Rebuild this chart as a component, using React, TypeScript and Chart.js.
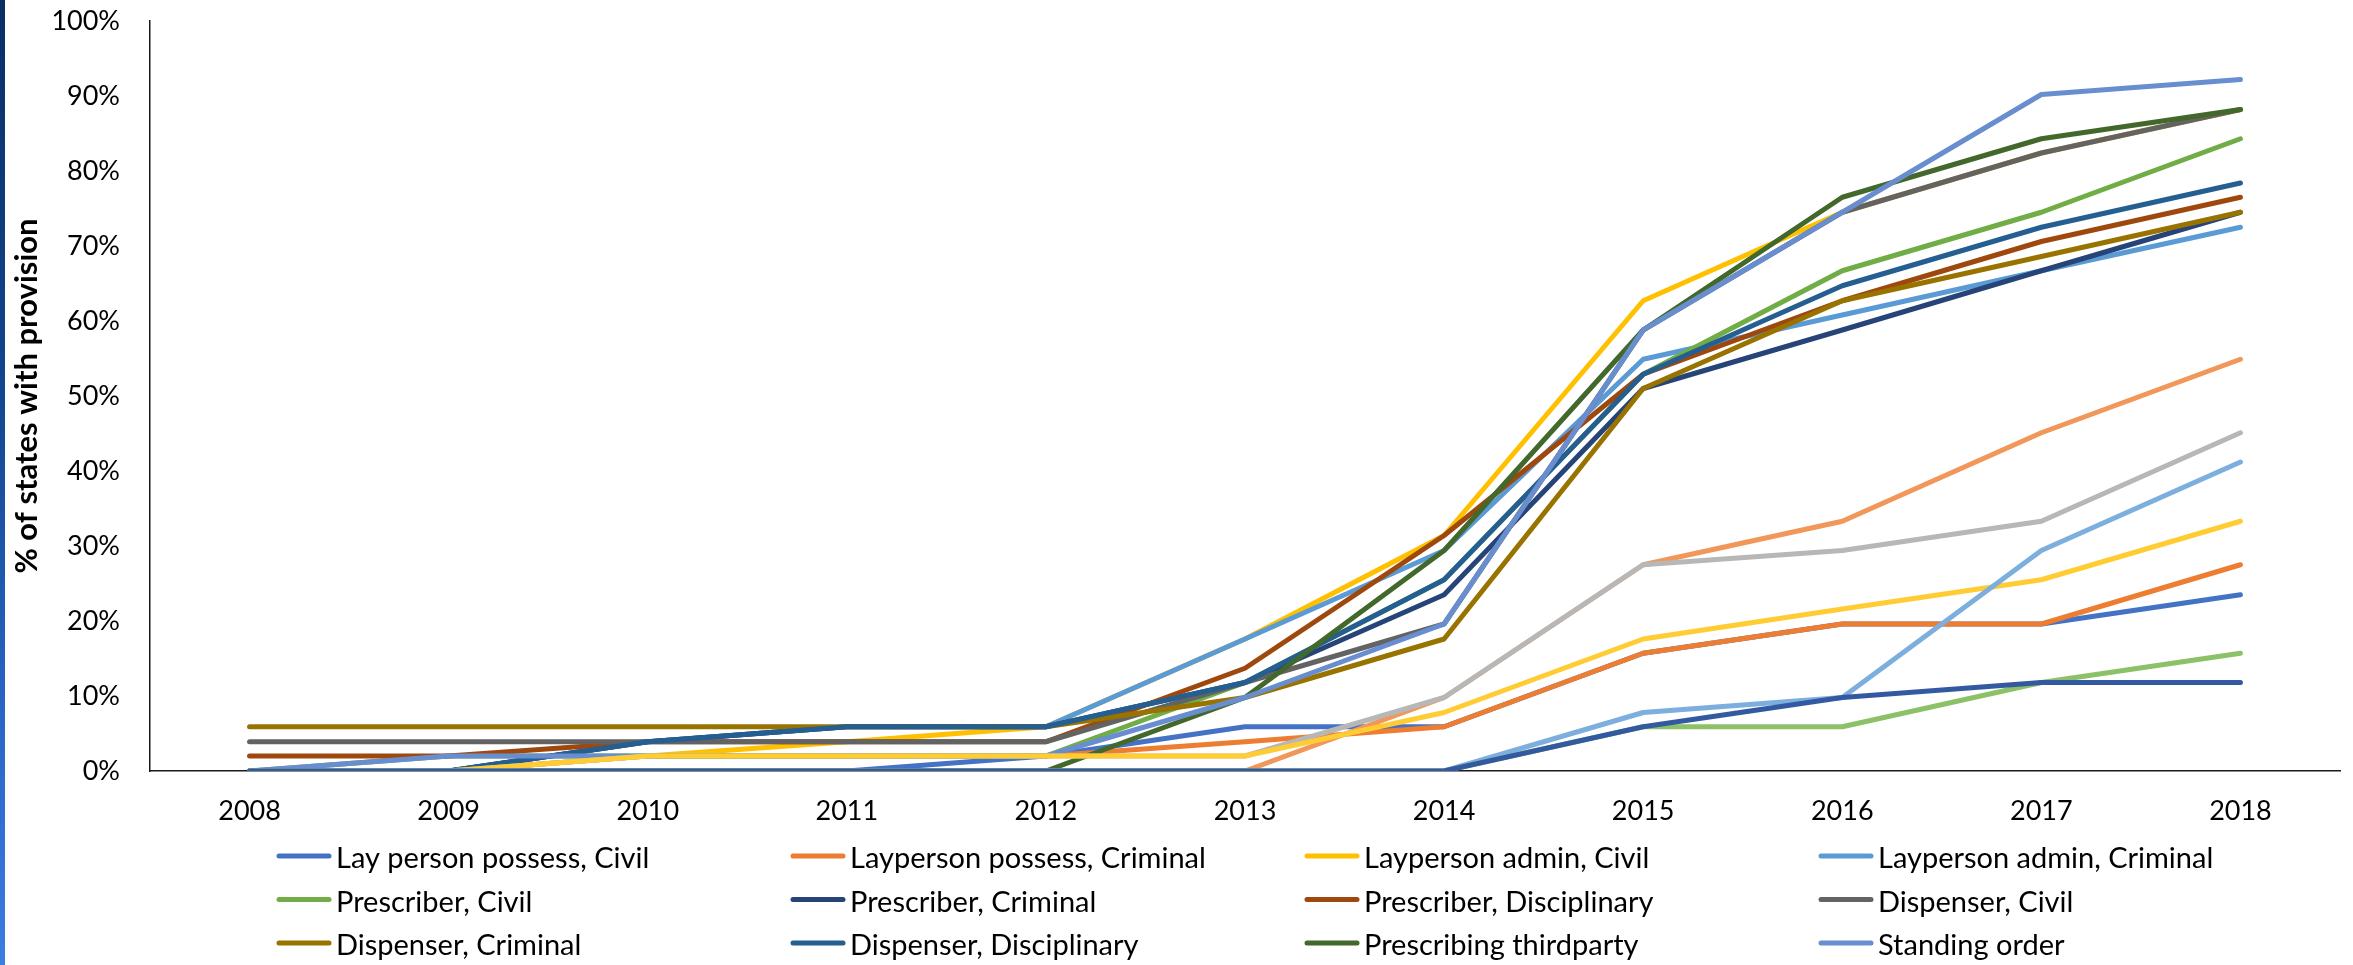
import React, { useEffect, useRef } from "react";
import { Chart, registerables } from "chart.js";

Chart.register(...registerables);

const YEARS = ["2008", "2009", "2010", "2011", "2012", "2013", "2014", "2015", "2016", "2017", "2018"];

const Y_TICKS = [0, 10, 20, 30, 40, 50, 60, 70, 80, 90, 100];
const Y_TITLE = "% of states with provision";

const LEGEND_NAMES = [
  "Lay person possess, Civil",
  "Layperson possess, Criminal",
  "Layperson admin, Civil",
  "Layperson admin, Criminal",
  "Prescriber, Civil",
  "Prescriber, Criminal",
  "Prescriber, Disciplinary",
  "Dispenser, Civil",
  "Dispenser, Criminal",
  "Dispenser, Disciplinary",
  "Prescribing thirdparty",
  "Standing order",
];
const EXTRA_NAMES = ["Series 13", "Series 14", "Series 15", "Series 16", "Series 17", "Series 18"];

const COLORS = [
  "#4472C4", "#ED7D31", "#FFC000", "#5B9BD5", "#70AD47", "#264478",
  "#9E480E", "#636363", "#997300", "#255E91", "#43682B", "#698ED0",
  "#F1975A", "#B7B7B7", "#FFCD33", "#7CAFDD", "#8CC168", "#335AA1",
];

// values in % of states
const layPossessCivil = [0, 0, 0, 0, 2.0, 5.9, 5.9, 15.7, 19.6, 19.6, 23.5];
const layPossessCriminal = [0, 0, 2.0, 2.0, 2.0, 3.9, 5.9, 15.7, 19.6, 19.6, 27.5];
const layAdminCivil = [0, 0, 2.0, 3.9, 5.9, 17.6, 31.4, 62.7, 74.5, 82.4, 88.2];
const layAdminCriminal = [0, 0, 3.9, 5.9, 5.9, 17.6, 29.4, 54.9, 60.8, 66.7, 72.5];
const prescriberCivil = [0, 2.0, 2.0, 2.0, 2.0, 11.8, 25.5, 52.9, 66.7, 74.5, 84.3];
const prescriberCriminal = [0, 0, 3.9, 5.9, 5.9, 11.8, 23.5, 51.0, 58.8, 66.7, 74.5];
const prescriberDisciplinary = [2.0, 2.0, 3.9, 3.9, 3.9, 13.7, 31.4, 52.9, 62.7, 70.6, 76.5];
const dispenserCivil = [3.9, 3.9, 3.9, 3.9, 3.9, 11.8, 19.6, 58.8, 74.5, 82.4, 88.2];
const dispenserCriminal = [5.9, 5.9, 5.9, 5.9, 5.9, 9.8, 17.6, 51.0, 62.7, 68.6, 74.5];
const dispenserDisciplinary = [0, 0, 3.9, 5.9, 5.9, 11.8, 25.5, 52.9, 64.7, 72.5, 78.4];
const prescribingThirdparty = [0, 0, 0, 0, 0, 9.8, 29.4, 58.8, 76.5, 84.3, 88.2];
const standingOrder = [0, 2.0, 2.0, 2.0, 2.0, 9.8, 19.6, 58.8, 74.5, 90.2, 92.2];
const series13 = [0, 0, 0, 0, 0, 0, 9.8, 27.5, 33.3, 45.1, 54.9];
const series14 = [0, 0, 2.0, 2.0, 2.0, 2.0, 9.8, 27.5, 29.4, 33.3, 45.1];
const series15 = [0, 0, 2.0, 2.0, 2.0, 2.0, 7.8, 17.6, 21.6, 25.5, 33.3];
const series16 = [0, 0, 0, 0, 0, 0, 0, 7.8, 9.8, 29.4, 41.2];
const series17 = [0, 0, 0, 0, 0, 0, 0, 5.9, 5.9, 11.8, 15.7];
const series18 = [0, 0, 0, 0, 0, 0, 0, 5.9, 9.8, 11.8, 11.8];

const SERIES_VALUES = [
  layPossessCivil, layPossessCriminal, layAdminCivil, layAdminCriminal,
  prescriberCivil, prescriberCriminal, prescriberDisciplinary, dispenserCivil,
  dispenserCriminal, dispenserDisciplinary, prescribingThirdparty, standingOrder,
  series13, series14, series15, series16, series17, series18,
];
const SERIES_NAMES = [...LEGEND_NAMES, ...EXTRA_NAMES];

const FONT = "Lato, 'Open Sans', sans-serif";
const W = 2353;
const H = 965;

const gridLegend = {
  id: "gridLegend",
  afterDraw(chart: any) {
    const ctx = chart.ctx;
    const area = chart.chartArea;
    const startX = area.left + 127;
    const colW = 514;
    const startY = area.bottom + 85;
    const rowH = 43.5;
    ctx.save();
    LEGEND_NAMES.forEach((name, i) => {
      const ds = chart.data.datasets[i];
      const col = i % 4;
      const row = Math.floor(i / 4);
      const x = startX + col * colW;
      const y = startY + row * rowH;
      ctx.strokeStyle = ds.borderColor;
      ctx.lineWidth = 5;
      ctx.lineCap = "round";
      ctx.beginPath();
      ctx.moveTo(x + 2, y);
      ctx.lineTo(x + 52, y);
      ctx.stroke();
      ctx.fillStyle = "#000";
      ctx.font = `29px ${FONT}`;
      ctx.textBaseline = "alphabetic";
      ctx.textAlign = "left";
      ctx.fillText(name, x + 59, y + 12);
    });
    ctx.restore();
  },
};

export default function App() {
  const ref = useRef<HTMLCanvasElement | null>(null);

  useEffect(() => {
    if (!ref.current) return;
    const chart = new Chart(ref.current, {
      type: "line",
      data: {
        labels: YEARS,
        datasets: SERIES_VALUES.map((vals, i) => ({
          label: SERIES_NAMES[i],
          data: vals,
          borderColor: COLORS[i],
          backgroundColor: COLORS[i],
          borderWidth: 5,
          borderCapStyle: "round" as const,
          borderJoinStyle: "round" as const,
          pointRadius: 0,
          pointHoverRadius: 0,
          tension: 0,
          fill: false,
          order: 100 - i,
        })),
      },
      options: {
        responsive: false,
        animation: false,
        devicePixelRatio: 1,
        layout: { padding: { left: 0, top: 21, right: 13, bottom: 0 } },
        plugins: {
          legend: { display: false },
          tooltip: { enabled: false },
        },
        scales: {
          x: {
            type: "category",
            offset: true,
            grid: { display: false, drawTicks: false },
            border: { display: true, color: "#1a1a1a", width: 1.5 },
            ticks: {
              color: "#000",
              font: { family: FONT, size: 27 },
              padding: 24,
              maxRotation: 0,
              autoSkip: false,
            },
            afterFit: (s: any) => {
              s.height = 194;
            },
          },
          y: {
            min: 0,
            max: 100,
            grid: { display: false, drawTicks: false },
            border: { display: true, color: "#1a1a1a", width: 1.5 },
            afterBuildTicks: (s: any) => {
              s.ticks = Y_TICKS.map((v) => ({ value: v }));
            },
            ticks: {
              color: "#000",
              font: { family: FONT, size: 27 },
              padding: 30,
              callback: (v: any) => `${v}%`,
            },
            title: {
              display: true,
              text: Y_TITLE,
              color: "#000",
              font: { family: FONT, size: 31, weight: "bold" },
              padding: { top: 8, bottom: 0 },
            },
            afterFit: (s: any) => {
              s.width = 150;
              s.paddingTop = 0;
              s.paddingBottom = 0;
            },
          },
        },
      },
      plugins: [gridLegend],
    });
    return () => chart.destroy();
  }, []);

  return (
    <div style={{ position: "fixed", left: 0, top: 0, width: W, height: H, background: "#fff", overflow: "hidden" }}>
      <canvas ref={ref} width={W} height={H} style={{ display: "block", width: W, height: H }} />
      <div
        style={{
          position: "absolute",
          left: 0,
          top: 0,
          width: 5,
          height: H,
          background: "linear-gradient(to bottom, #0a2e66 0%, #12468f 40%, #2a66c8 75%, #3a7ee0 100%)",
        }}
      />
    </div>
  );
}
